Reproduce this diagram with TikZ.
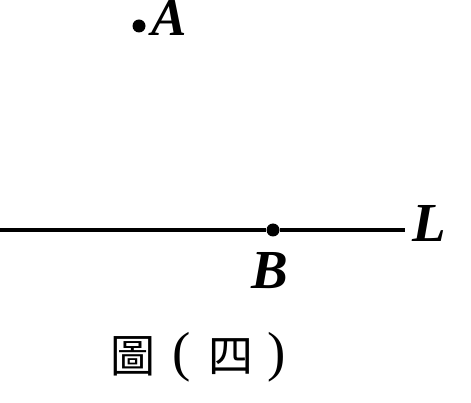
\documentclass[tikz,border=0pt]{standalone}
\usepackage{fontspec}
\setmainfont{Liberation Serif}
\newfontfamily\cjk{Noto Sans CJK TC}
\usetikzlibrary{positioning,calc}
\tikzset{font=\fontsize{55}{60}\selectfont\bfseries\itshape}

\begin{document}
\begin{tikzpicture}[x=1pt, y=-1pt]
	\useasboundingbox (0, 0) rectangle (471, 403);
	\begin{scope}
		\tikzstyle{every node}=[inner sep=0pt]
		\tikzstyle{dot}=[circle, fill=black, minimum size=13pt]
		\tikzstyle{cjkchar}=[font=\cjk\fontsize{45}{50}\selectfont]
		\tikzstyle{paren}=[font=\fontsize{55}{60}\selectfont]
		\node[dot] (a) at (139, 26) {};
		\node[dot] (b) at (273, 230) {};
		\coordinate (l0) at (0, 230);
		\coordinate (l1) at (405, 230);

		\node[anchor=base west, font=\fontsize{53}{58}\selectfont\bfseries\itshape] (alab) at (151, 36) {A};
		\node[anchor=base] (blab) at (270, 288) {B};
		\node[anchor=base west] (llab) at (412, 242) {L};

		\draw[line width=3.8pt] (l0) -- (b) -- (l1);

		% caption
		\node[cjkchar] (cap1) at (133, 356) {圖};
		\node[paren] (cap2) at (182, 357) {(};
		\node[cjkchar] (cap3) at (231, 357) {四};
		\node[paren] (cap4) at (277, 357) {)};

	\end{scope}
\end{tikzpicture}
\end{document}
